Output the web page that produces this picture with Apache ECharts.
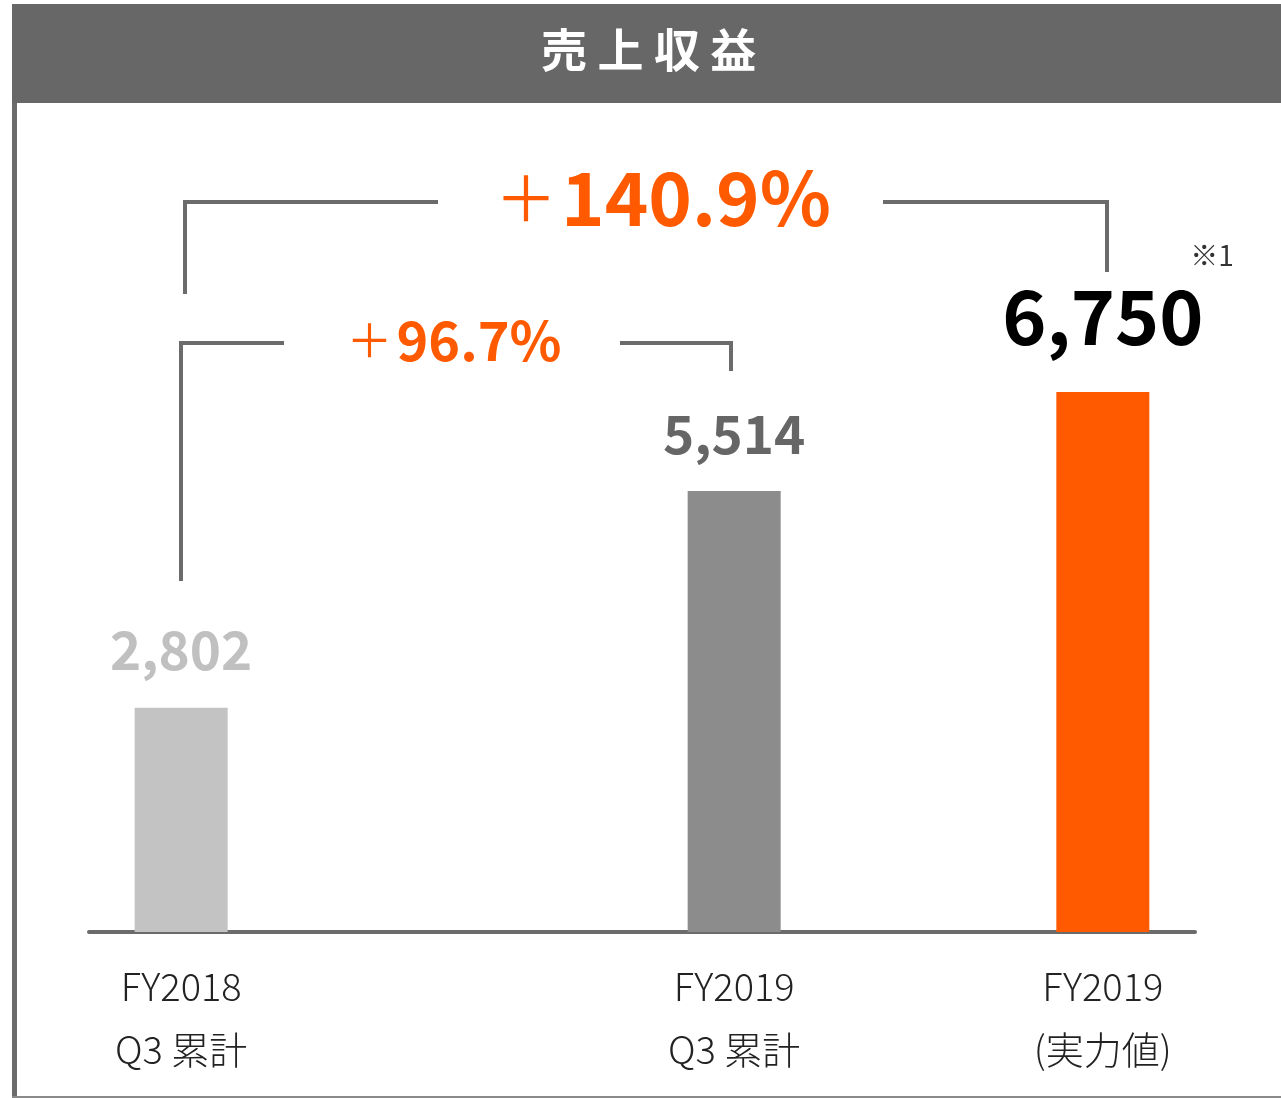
<!DOCTYPE html>
<html><head><meta charset="utf-8">
<script src="https://cdn.jsdelivr.net/npm/echarts@6/dist/echarts.min.js"></script>
<style>html,body{margin:0;padding:0;background:#fff}#c{width:1281px;height:1098px}</style>
</head><body><div id="c"></div>
<script>
const title = '売上収益';
const categories = ['FY2018\nQ3 累計', '', '', 'FY2019\nQ3 累計', '', 'FY2019\n(実力値)'];
const values = [2802, null, null, 5514, null, 6750];
const barColors = ['#c3c3c3', null, null, '#8c8c8c', null, '#ff5a00'];
const labelColors = ['#c0c0c0', null, null, '#666666', null, '#000000'];
const growthLabels = ['140.9%', '96.7%'];
const noteLabel = '※1';

const FONT = '"Noto Sans CJK JP","Noto Sans",sans-serif';
const chart = echarts.init(document.getElementById('c'));

const data = values.map((v, i) => {
  if (v === null) return null;
  const big = i === 5;
  return {
    value: v,
    itemStyle: { color: barColors[i] },
    label: {
      show: true, position: 'top',
      distance: big ? 38 : 31,
      color: labelColors[i],
      fontSize: big ? 75 : 53,
      lineHeight: big ? 75 : 53,
      fontWeight: 'bold',
      fontFamily: FONT,
      formatter: p => Number(p.value).toLocaleString('en-US')
    }
  };
});

const orange = '#ff5a00';
const lineCol = '#6b6b6b';
function seg(pts) {
  return { type: 'polyline', shape: { points: pts }, style: { stroke: lineCol, lineWidth: 4, fill: null }, z: 10 };
}
function growth(x, y, txt, size, plusSize) {
  return {
    type: 'text', x: x, y: y, z: 10,
    style: {
      text: '{p|＋}{n|' + txt + '}',
      textAlign: 'center', textVerticalAlign: 'middle',
      rich: {
        p: { fill: orange, fontSize: plusSize, fontWeight: 'normal', fontFamily: FONT, padding: [0, 4, 0, 0] },
        n: { fill: orange, fontSize: size, fontWeight: 'bold', fontFamily: FONT }
      }
    }
  };
}

chart.setOption({
  animation: false,
  title: {
    text: title.split('').join(' '),
    left: 536, top: 22,
    textStyle: { color: '#ffffff', fontSize: 46, fontWeight: 'bold', fontFamily: FONT }
  },
  grid: { left: 89, right: 86, top: 132, bottom: 166, containLabel: false },
  xAxis: {
    type: 'category', data: categories, boundaryGap: true,
    axisLine: { lineStyle: { color: lineCol, width: 4 } },
    axisTick: { show: false },
    axisLabel: { color: '#222', fontSize: 38, fontWeight: 300, lineHeight: 63, margin: 23, fontFamily: FONT, interval: 0 }
  },
  yAxis: { type: 'value', min: 0, max: 10000, show: false, splitLine: { show: false } },
  series: [{ type: 'bar', data: data, barWidth: 93 }],
  graphic: [
    { type: 'rect', shape: { x: 12, y: 4, width: 1269, height: 99 }, style: { fill: '#676767' }, z: -1 },
    { type: 'rect', shape: { x: 12, y: 103, width: 5, height: 995 }, style: { fill: '#6b6b6b' }, z: -1 },
    { type: 'rect', shape: { x: 12, y: 1096, width: 1269, height: 2 }, style: { fill: '#8a8a8a' }, z: -1 },
    seg([[185, 294], [185, 202], [438, 202]]),
    seg([[883, 202], [1107, 202], [1107, 272]]),
    seg([[181, 581], [181, 343], [284, 343]]),
    seg([[620, 343], [731, 343], [731, 371]]),
    growth(663, 198, growthLabels[0], 74, 62),
    growth(454, 340, growthLabels[1], 54, 46),
    { type: 'text', x: 1212, y: 255, style: { text: noteLabel, fill: '#333', font: '28px ' + FONT, textAlign: 'center', textVerticalAlign: 'middle' }, z: 10 }
  ]
});
</script></body></html>
